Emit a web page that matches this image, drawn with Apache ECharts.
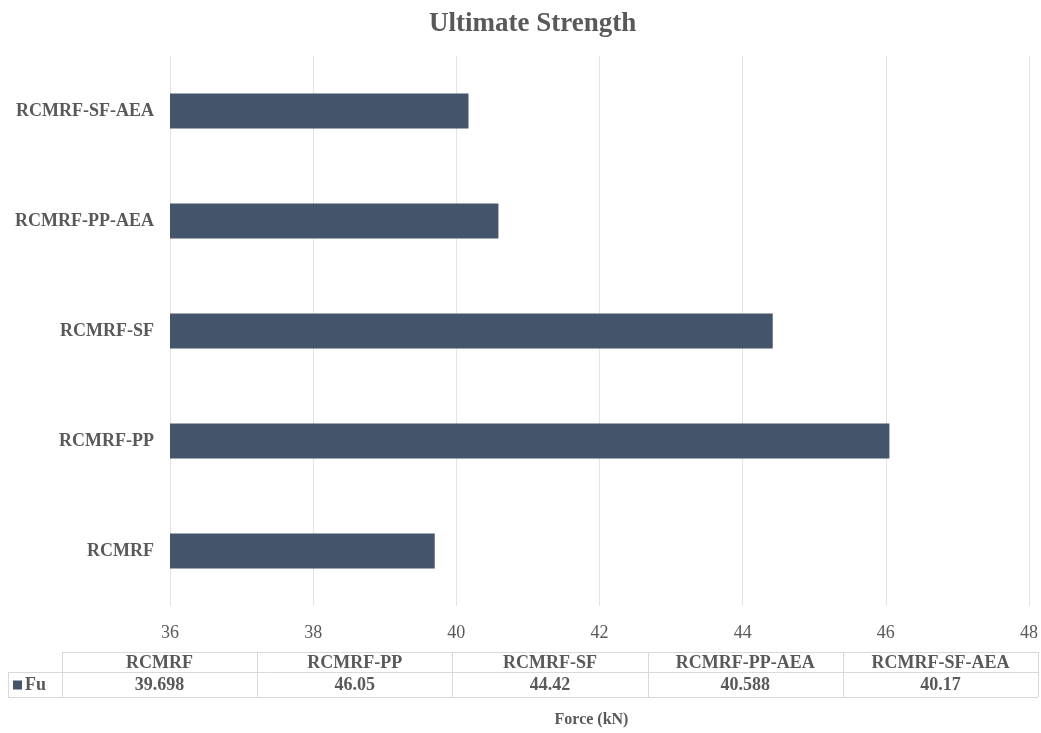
<!DOCTYPE html>
<html>
<head>
<meta charset="utf-8">
<style>
  html, body { margin: 0; padding: 0; background: #ffffff; }
  #chart { width: 1041px; height: 733px; }
</style>
<script src="https://cdn.jsdelivr.net/npm/echarts@6/dist/echarts.min.js"></script>
</head>
<body>
<div id="chart"></div>
<script>
// Specimen names (bottom to top on the category axis) and their ultimate force, kN
const categories = ['RCMRF', 'RCMRF-PP', 'RCMRF-SF', 'RCMRF-PP-AEA', 'RCMRF-SF-AEA'];
const fuValues = [39.698, 46.05, 44.42, 40.588, 40.17];
const fuLabels = ['39.698', '46.05', '44.42', '40.588', '40.17'];
const seriesName = 'Fu';
const axisMin = 36, axisMax = 48, axisStep = 2;

const SERIF = '"Liberation Serif", "Times New Roman", serif';
const BAR_COLOR = '#44546A';
const TEXT_DARK = '#595959';
const BORDER = '#d9d9d9';

// Data table under the plot: header row of names, one row of values
const table = { left: 62, keyLeft: 8, right: 1038, top: 652, mid: 672, bottom: 697 };

function buildTable() {
  const els = [];
  const colW = (table.right - table.left) / categories.length;
  const line = (x1, y1, x2, y2) => ({
    type: 'line', silent: true,
    shape: { x1, y1, x2, y2 },
    style: { stroke: BORDER, lineWidth: 1 }
  });
  // horizontal rules
  els.push(line(table.left, table.top + 0.5, table.right, table.top + 0.5));
  els.push(line(table.keyLeft, table.mid + 0.5, table.right, table.mid + 0.5));
  els.push(line(table.keyLeft, table.bottom + 0.5, table.right, table.bottom + 0.5));
  // vertical rules
  els.push(line(table.keyLeft + 0.5, table.mid, table.keyLeft + 0.5, table.bottom));
  for (let i = 0; i <= categories.length; i++) {
    const x = Math.round(table.left + i * colW) + 0.5;
    els.push(line(x, table.top, x, table.bottom));
  }
  // cell texts
  categories.forEach((c, i) => {
    const cx = table.left + (i + 0.5) * colW;
    els.push({
      type: 'text', silent: true,
      style: {
        x: cx, y: (table.top + table.mid) / 2 + 1, text: c,
        align: 'center', verticalAlign: 'middle',
        font: 'bold 18px ' + SERIF, fill: TEXT_DARK
      }
    });
    els.push({
      type: 'text', silent: true,
      style: {
        x: cx, y: (table.mid + table.bottom) / 2 + 1, text: fuLabels[i],
        align: 'center', verticalAlign: 'middle',
        font: 'bold 18px ' + SERIF, fill: TEXT_DARK
      }
    });
  });
  // legend key for the series row
  const ky = (table.mid + table.bottom) / 2;
  els.push({
    type: 'rect', silent: true,
    shape: { x: 13, y: ky - 4, width: 9, height: 9 },
    style: { fill: BAR_COLOR }
  });
  els.push({
    type: 'text', silent: true,
    style: {
      x: 25, y: ky + 1, text: seriesName,
      align: 'left', verticalAlign: 'middle',
      font: 'bold 18px ' + SERIF, fill: TEXT_DARK
    }
  });
  return els;
}

const chart = echarts.init(document.getElementById('chart'), null, { renderer: 'canvas' });
chart.setOption({
  backgroundColor: '#ffffff',
  animation: false,
  title: {
    text: 'Ultimate Strength',
    left: 424, top: 6,
    textStyle: { fontFamily: SERIF, fontWeight: 'bold', fontSize: 27, color: TEXT_DARK }
  },
  grid: { left: 170, right: 11, top: 56, bottom: 122, containLabel: false },
  xAxis: {
    type: 'value',
    min: axisMin, max: axisMax, interval: axisStep,
    name: 'Force (kN)',
    nameLocation: 'middle',
    nameGap: 106,
    nameTextStyle: { fontFamily: SERIF, fontWeight: 'bold', fontSize: 16, color: TEXT_DARK, padding: [0, 0, 0, -16] },
    axisLine: { show: false },
    axisTick: { show: false },
    axisLabel: { margin: 18, fontFamily: SERIF, fontSize: 18, color: TEXT_DARK },
    splitLine: { show: true, lineStyle: { color: '#e3e3e3', width: 1 } }
  },
  yAxis: {
    type: 'category',
    data: categories,
    axisLine: { show: false },
    axisTick: { show: false },
    axisLabel: { margin: 16, fontFamily: SERIF, fontWeight: 'bold', fontSize: 18, color: TEXT_DARK },
    splitLine: { show: false }
  },
  series: [{
    name: seriesName,
    type: 'bar',
    data: fuValues,
    barWidth: 35,
    itemStyle: { color: BAR_COLOR }
  }],
  graphic: buildTable()
});
</script>
</body>
</html>
